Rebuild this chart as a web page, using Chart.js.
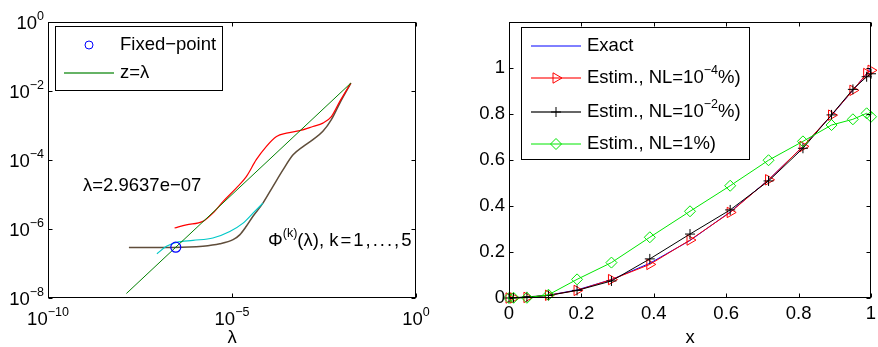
<!DOCTYPE html>
<html lang="en">
<head>
<meta charset="UTF-8">
<title>Fixed-point curves and estimates</title>
<script src="https://cdn.jsdelivr.net/npm/chart.js@4.4.1/dist/chart.umd.min.js"></script>
<style>
  body { margin: 0; background: #fff; }
  canvas { position: absolute; top: 0; }
  #left { left: 0; }
  #right { left: 440px; }
</style>
</head>
<body>
<canvas id="left" width="440" height="347"></canvas>
<canvas id="right" width="438" height="347"></canvas>
<script>
// ---- left panel: Phi^(k)(lambda), log-log ----
const fixedPoint = 2.9637e-7;
const diagLambda = [1.35e-8, 1.7e-2];   // z = lambda
const phiLambda = [1.58e-8, 2.51e-7, 1.62e-6, 4.68e-6, 1.07e-5, 1.62e-5, 2.45e-5, 3.72e-5, 6.92e-5,
                   1.29e-4, 2.45e-4, 4.57e-4, 8.51e-4, 1.58e-3, 2.95e-3, 5.01e-3, 8.51e-3, 1.7e-2];
const phiValue  = [2.93e-7, 2.93e-7, 3.16e-7, 3.72e-7, 4.9e-7, 6.76e-7, 1.2e-6, 2.34e-6, 5.62e-6,
                   1.7e-5, 5.25e-5, 1.41e-4, 2.45e-4, 3.89e-4, 6.76e-4, 1.48e-3, 4.47e-3, 1.7e-2];
const redLambda = [2.75e-7, 5.75e-7, 1.62e-6, 3.02e-6, 5.75e-6, 1.32e-5, 2.45e-5, 4.57e-5, 8.51e-5,
                   1.62e-4, 3.02e-4, 6.92e-4, 1.58e-3, 2.95e-3, 5.01e-3, 8.51e-3, 1.7e-2];
const redValue  = [1.07e-6, 1.32e-6, 1.66e-6, 2.88e-6, 6.31e-6, 1.55e-5, 3.31e-5, 1.02e-4, 2.45e-4,
                   4.79e-4, 6.03e-4, 7.08e-4, 9.33e-4, 1.17e-3, 1.82e-3, 5.01e-3, 1.7e-2];
const cyanLambda = [9.12e-8, 1.66e-7, 3.09e-7, 8.71e-7, 3.02e-6, 8.71e-6, 2.0e-5, 3.72e-5, 6.92e-5];
const cyanValue  = [1.91e-7, 3.16e-7, 4.07e-7, 4.68e-7, 5.5e-7, 8.51e-7, 1.48e-6, 2.88e-6, 5.62e-6];
const logXExp = [-10, -5, 0];
const logYExp = [-8, -6, -4, -2, 0];

// ---- right panel: exact vs estimates ----
const xNodes   = [0, 0.0125, 0.0495, 0.109, 0.188, 0.283, 0.389, 0.5, 0.611, 0.717, 0.812, 0.891, 0.95, 0.988, 1];
const exact    = [0, 0.0002, 0.0025, 0.012, 0.035, 0.080, 0.151, 0.25, 0.374, 0.514, 0.659, 0.794, 0.903, 0.975, 1];
const estimNL4 = [0, 0.0002, 0.0026, 0.012, 0.033, 0.080, 0.146, 0.252, 0.372, 0.514, 0.659, 0.795, 0.903, 0.976, 0.99];
const estimNL2 = [0, 0.001, 0.005, 0.011, 0.033, 0.074, 0.170, 0.278, 0.383, 0.509, 0.651, 0.796, 0.907, 0.962, 0.975];
const estimNL1 = [0, 0.001, 0.001, 0.014, 0.081, 0.154, 0.264, 0.377, 0.488, 0.599, 0.681, 0.752, 0.777, 0.803, 0.788];
const linTicks = [0, 0.2, 0.4, 0.6, 0.8, 1];

const FONT = '"Liberation Sans", Arial, Helvetica, sans-serif';
const TXT = 18.5, SUP = 12.5;
const pts = (xs, ys) => xs.map((x, i) => ({ x, y: ys[i] }));

// text made of pieces, some raised as superscripts
function drawRich(ctx, parts, x, y, align) {
  const w = parts.map(p => {
    ctx.font = (p.sup ? SUP : TXT) + 'px ' + FONT;
    ctx.letterSpacing = p.ls || '0px';
    return ctx.measureText(p.t).width;
  });
  const total = w.reduce((a, b) => a + b, 0);
  let cx = align === 'right' ? x - total : align === 'center' ? x - total / 2 : x;
  ctx.textAlign = 'left';
  ctx.textBaseline = 'middle';
  ctx.fillStyle = '#000';
  parts.forEach((p, i) => {
    ctx.font = (p.sup ? SUP : TXT) + 'px ' + FONT;
    ctx.letterSpacing = p.ls || '0px';
    ctx.fillText(p.t, cx, p.sup ? y - 7.5 : y);
    cx += w[i];
  });
  ctx.letterSpacing = '0px';
}

const pow10 = e => [{ t: '10' }, { t: e < 0 ? '\u2212' + (-e) : String(e), sup: true }];

// box, inward ticks, tick labels, axis title, legend and notes
function axesPlugin(cfg) {
  return {
    id: 'axesFrame',
    afterDraw(chart) {
      const { ctx, chartArea: a, scales: { x, y } } = chart;
      ctx.save();
      ctx.strokeStyle = '#000';
      ctx.lineWidth = 1;
      const L = Math.round(a.left) + 0.5, R = Math.round(a.right) - 0.5;
      const T = Math.round(a.top) + 0.5, B = Math.round(a.bottom) - 0.5;
      ctx.beginPath();
      cfg.xTicks.forEach(v => {
        const px = Math.round(x.getPixelForValue(v)) + 0.5;
        ctx.moveTo(px, B); ctx.lineTo(px, B - 4);
        ctx.moveTo(px, T); ctx.lineTo(px, T + 4);
      });
      cfg.yTicks.forEach(v => {
        const py = Math.round(y.getPixelForValue(v)) + 0.5;
        ctx.moveTo(L, py); ctx.lineTo(L + 4, py);
        ctx.moveTo(R, py); ctx.lineTo(R - 4, py);
      });
      ctx.stroke();
      ctx.strokeRect(L, T, R - L, B - T);

      cfg.xTicks.forEach((v, i) => {
        drawRich(ctx, cfg.xLabel(v, i), x.getPixelForValue(v), a.bottom + cfg.xLabelDy, 'center');
      });
      cfg.yTicks.forEach((v, i) => {
        drawRich(ctx, cfg.yLabel(v, i), a.left - 4, y.getPixelForValue(v) + cfg.yLabelDy, 'right');
      });
      drawRich(ctx, [{ t: cfg.title }], (a.left + a.right) / 2, a.bottom + 40, 'center');

      (cfg.notes || []).forEach(n => drawRich(ctx, n.parts, n.x, n.y, 'left'));

      const lg = cfg.legend;
      ctx.fillStyle = '#fff';
      ctx.fillRect(lg.x, lg.y, lg.w, lg.h);
      ctx.strokeStyle = '#000';
      ctx.lineWidth = 1;
      ctx.strokeRect(lg.x + 0.5, lg.y + 0.5, lg.w, lg.h);
      lg.items.forEach((it, i) => {
        const ry = lg.rows[i];
        if (it.line) {
          ctx.strokeStyle = it.legendColor || it.color;
          ctx.lineWidth = it.lineWidth || 2;
          ctx.beginPath();
          ctx.moveTo(lg.x1, ry); ctx.lineTo(lg.x2, ry);
          ctx.stroke();
        }
        if (it.marker) {
          ctx.strokeStyle = it.color;
          ctx.fillStyle = 'rgba(0,0,0,0)';
          ctx.lineWidth = 1;
          Chart.helpers.drawPoint(ctx, { pointStyle: it.marker, radius: it.radius, rotation: it.rotation || 0, borderWidth: 1 },
            (lg.x1 + lg.x2) / 2, ry);
        }
        drawRich(ctx, it.parts, lg.tx, ry, 'left');
      });
      ctx.restore();
    }
  };
}

const curve = (data, color) => ({
  data, borderColor: color, borderWidth: 1.2, pointRadius: 0,
  cubicInterpolationMode: 'monotone', fill: false
});

new Chart(document.getElementById('left'), {
  type: 'line',
  data: {
    datasets: [
      { label: 'Fixed-point', data: [{ x: fixedPoint, y: fixedPoint }], showLine: false,
        pointRadius: 5, pointStyle: 'circle', pointBorderColor: '#0000ff', pointBackgroundColor: 'rgba(0,0,0,0)',
        pointBorderWidth: 1.2 },
      Object.assign(curve(pts(diagLambda, diagLambda), '#008000'), { label: 'z=\u03bb', cubicInterpolationMode: 'default', borderWidth: 1 }),
      Object.assign(curve(pts(redLambda, redValue), '#ff0000'), { label: 'k=1' }),
      Object.assign(curve(pts(cyanLambda, cyanValue), '#00c8c8'), { label: 'k=2' }),
      Object.assign(curve(pts(phiLambda, phiValue), '#5f4d3a'), { label: 'k=3..5', borderWidth: 1.5 })
    ]
  },
  options: {
    responsive: false,
    animation: false,
    devicePixelRatio: 1,
    layout: { padding: { left: 48, right: 24, top: 22, bottom: 49 } },
    plugins: { legend: { display: false }, tooltip: { enabled: false } },
    scales: {
      x: { type: 'logarithmic', min: 1e-10, max: 1, display: false },
      y: { type: 'logarithmic', min: 1e-8, max: 1, display: false }
    }
  },
  plugins: [axesPlugin({
    xTicks: logXExp.map(e => Math.pow(10, e)),
    yTicks: logYExp.map(e => Math.pow(10, e)),
    xLabel: (v, i) => pow10(logXExp[i]),
    yLabel: (v, i) => pow10(logYExp[i]),
    xLabelDy: 22, yLabelDy: 2,
    title: '\u03bb',
    notes: [
      { x: 83, y: 186, parts: [{ t: '\u03bb=2.9637e\u221207' }] },
      { x: 268, y: 241, parts: [{ t: '\u03a6' }, { t: '(k)', sup: true }, { t: '(\u03bb), ' }, { t: 'k=1,...,5', ls: '2px' }] }
    ],
    legend: {
      x: 55, y: 26, w: 167, h: 64, x1: 64, x2: 114, tx: 120, rows: [45, 73],
      items: [
        { marker: 'circle', radius: 4, color: '#0000ff', parts: [{ t: 'Fixed\u2212point' }] },
        { line: true, color: '#008000', legendColor: 'rgba(0,128,0,0.6)', parts: [{ t: 'z=\u03bb' }] }
      ]
    }
  })]
});

const series = (label, data, color, style, radius, order, rotation) => ({
  label, data: pts(xNodes, data), borderColor: color, borderWidth: 1,
  pointStyle: style || false, pointRadius: style ? radius : 0, pointRotation: rotation || 0,
  pointBorderColor: color, pointBackgroundColor: 'rgba(0,0,0,0)', pointBorderWidth: 1,
  tension: 0, order, clip: false
});

new Chart(document.getElementById('right'), {
  type: 'line',
  data: {
    datasets: [
      series('Exact', exact, '#0000ff', null, 0, 4),
      series('Estim., NL=1e-4%', estimNL4, '#ff0000', 'triangle', 6, 3, 90),
      series('Estim., NL=1e-2%', estimNL2, '#000000', 'cross', 5, 2),
      series('Estim., NL=1%', estimNL1, '#00e600', 'rectRot', 5.5, 1)
    ]
  },
  options: {
    responsive: false,
    animation: false,
    devicePixelRatio: 1,
    layout: { padding: { left: 69, right: 1, top: 22, bottom: 49 } },
    plugins: { legend: { display: false }, tooltip: { enabled: false } },
    scales: {
      x: { type: 'linear', min: 0, max: 1, display: false },
      y: { type: 'linear', min: 0, max: 1.2, display: false }
    }
  },
  plugins: [axesPlugin({
    xTicks: linTicks,
    yTicks: linTicks,
    xLabel: v => [{ t: String(v) }],
    yLabel: v => [{ t: String(v) }],
    xLabelDy: 16, yLabelDy: 0,
    title: 'x',
    legend: {
      x: 81, y: 27, w: 228, h: 132, x1: 91, x2: 141, tx: 147, rows: [46, 78, 112, 144],
      items: [
        { line: true, lineWidth: 1, color: '#0000ff', parts: [{ t: 'Exact' }] },
        { line: true, marker: 'triangle', rotation: 90, radius: 6, color: '#ff0000', legendColor: 'rgba(255,0,0,0.55)',
          parts: [{ t: 'Estim., NL=10' }, { t: '\u22124', sup: true }, { t: '%)' }] },
        { line: true, marker: 'cross', radius: 5, color: '#000', legendColor: 'rgba(0,0,0,0.6)',
          parts: [{ t: 'Estim., NL=10' }, { t: '\u22122', sup: true }, { t: '%)' }] },
        { line: true, lineWidth: 1, marker: 'rectRot', radius: 5.5, color: '#00e600',
          parts: [{ t: 'Estim., NL=1%)' }] }
      ]
    }
  })]
});
</script>
</body>
</html>
